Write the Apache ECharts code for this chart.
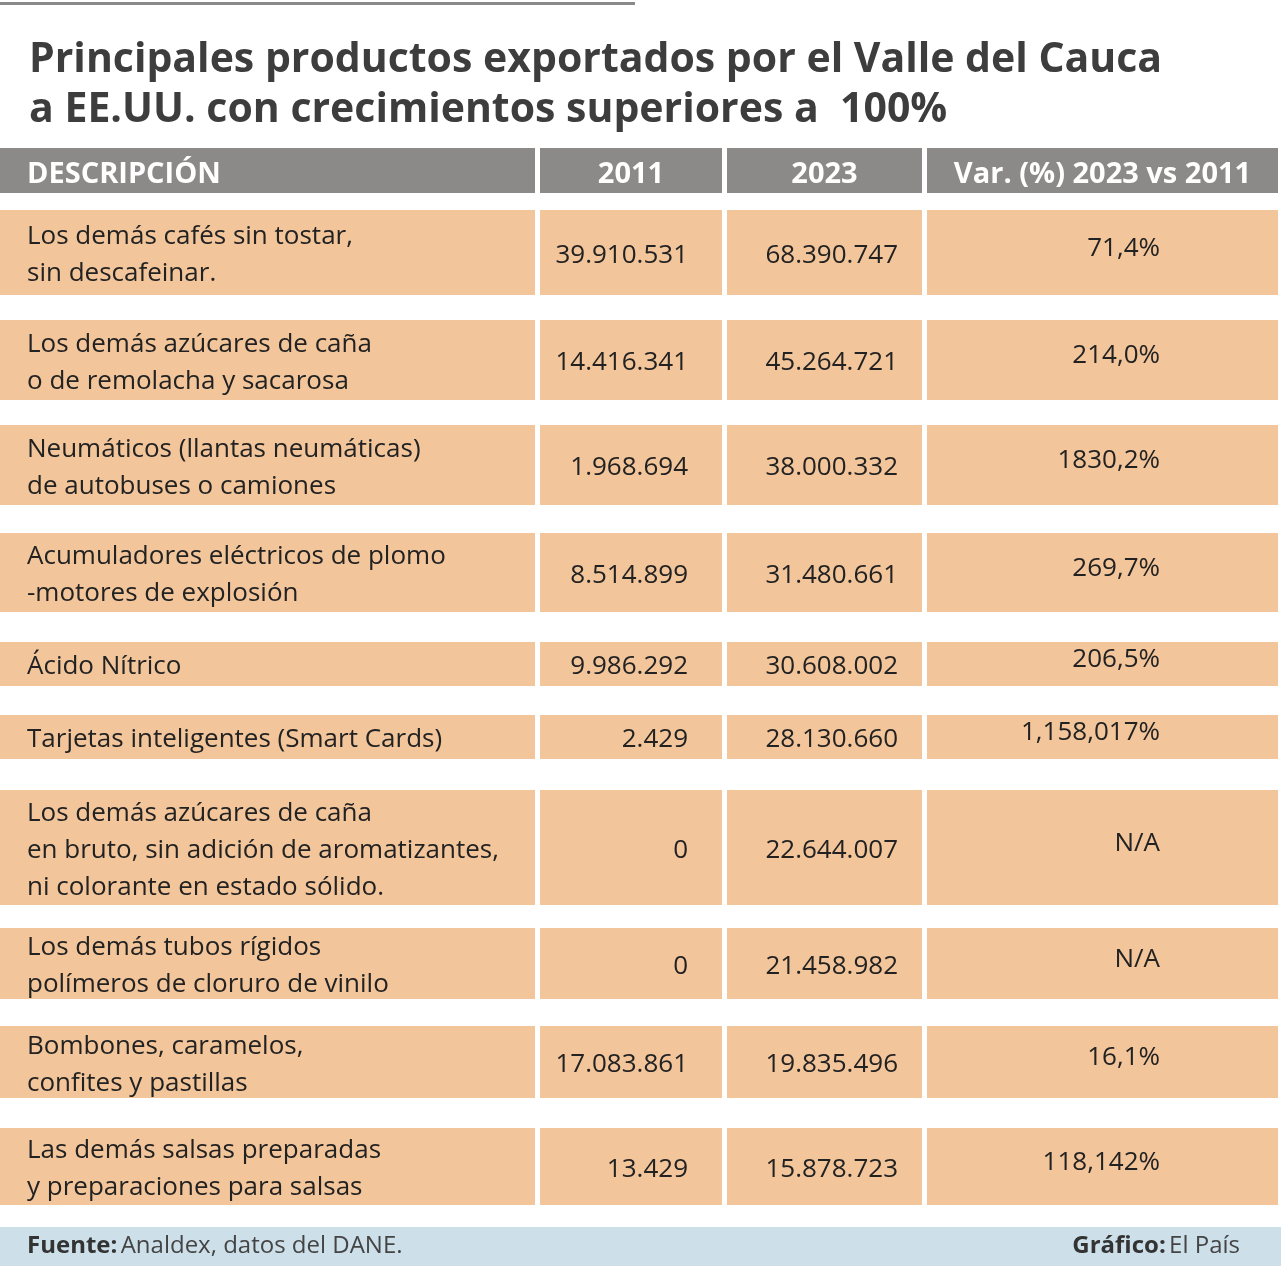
<!DOCTYPE html>
<html><head><meta charset="utf-8">
<script src="https://cdn.jsdelivr.net/npm/echarts@6/dist/echarts.min.js"></script>
<style>html,body{margin:0;padding:0;background:#fff}#grid{width:1281px;height:1266px}</style>
</head><body><div id="grid"></div>
<script>
let headers = ['DESCRIPCIÓN', '2011', '2023', 'Var. (%) 2023 vs 2011'];
let descriptions = [
    'Los demás cafés sin tostar,\nsin descafeinar.',
    'Los demás azúcares de caña\no de remolacha y sacarosa',
    'Neumáticos (llantas neumáticas)\nde autobuses o camiones',
    'Acumuladores eléctricos de plomo\n-motores de explosión',
    'Ácido Nítrico',
    'Tarjetas inteligentes (Smart Cards)',
    'Los demás azúcares de caña\nen bruto, sin adición de aromatizantes,\nni colorante en estado sólido.',
    'Los demás tubos rígidos\npolímeros de cloruro de vinilo',
    'Bombones, caramelos,\nconfites y pastillas',
    'Las demás salsas preparadas\ny preparaciones para salsas'
];
let values2011 = ['39.910.531', '14.416.341', '1.968.694', '8.514.899', '9.986.292', '2.429', '0', '0', '17.083.861', '13.429'];
let values2023 = ['68.390.747', '45.264.721', '38.000.332', '31.480.661', '30.608.002', '28.130.660', '22.644.007', '21.458.982', '19.835.496', '15.878.723'];
let variation = ['71,4%', '214,0%', '1830,2%', '269,7%', '206,5%', '1,158,017%', 'N/A', 'N/A', '16,1%', '118,142%'];

// layout in pixel units of the hidden value axes
let colEdges = [[0, 535], [540, 722], [727, 922], [927, 1278]];
let colAlignX = [27, 688, 898, 1160];
let rowTops = [210, 320, 425, 533, 642, 715, 790, 928, 1026, 1128];
let rowBottoms = [295, 400, 505, 612, 686, 759, 905, 999, 1098, 1205];

let cells = [];
headers.forEach(function (h, c) { cells.push([c, -1]); });
descriptions.forEach(function (d, r) {
    for (let c = 0; c < 4; c++) cells.push([c, r]);
});

function cellText(c, r) {
    if (r < 0) return headers[c];
    return [descriptions, values2011, values2023, variation][c][r];
}

option = {
    animation: false,
    title: {
        text: 'Principales productos exportados por el Valle del Cauca\na EE.UU. con crecimientos superiores a  100%',
        left: 24, top: 30,
        textStyle: { fontFamily: 'Open Sans', fontWeight: 'bold', fontSize: 41, lineHeight: 50, color: '#3d3d3d' }
    },
    grid: { left: 0, right: 0, top: 0, bottom: 0 },
    xAxis: { type: 'value', min: 0, max: 1281, show: false },
    yAxis: { type: 'value', min: 0, max: 1266, inverse: true, show: false },
    graphic: [
        { type: 'rect', shape: { x: 0, y: 2, width: 635, height: 3 }, style: { fill: '#8a8a8a' } },
        { type: 'rect', shape: { x: 0, y: 1227, width: 1281, height: 39 }, style: { fill: '#cde0ea' } },
        { type: 'text', x: 27, y: 1234, style: { rich: { b: { fontWeight: 'bold', fontSize: 24, fontFamily: 'Open Sans', fill: '#333' }, n: { fontSize: 24, fontFamily: 'Open Sans', fill: '#444' } }, text: '{b|Fuente:} {n|Analdex, datos del DANE.}' } },
        { type: 'text', x: 1240, y: 1234, style: { align: 'right', rich: { b: { fontWeight: 'bold', fontSize: 24, fontFamily: 'Open Sans', fill: '#333' }, n: { fontSize: 24, fontFamily: 'Open Sans', fill: '#444' } }, text: '{b|Gráfico:} {n|El País}' } }
    ],
    series: [{
        type: 'custom',
        data: cells,
        renderItem: function (params, api) {
            let c = api.value(0), r = api.value(1);
            let top = r < 0 ? 148 : rowTops[r];
            let bottom = r < 0 ? 193 : rowBottoms[r];
            let p0 = api.coord([colEdges[c][0], top]);
            let p1 = api.coord([colEdges[c][1], bottom]);
            let mid = (p0[1] + p1[1]) / 2;
            let header = r < 0;
            let tx, align;
            if (header) {
                tx = c === 0 ? p0[0] + 27 : (p0[0] + p1[0]) / 2;
                align = c === 0 ? 'left' : 'center';
            } else {
                tx = api.coord([colAlignX[c], 0])[0];
                align = c === 0 ? 'left' : 'right';
            }
            let ty = (!header && c === 3) ? mid - 4 : mid + (header ? 4 : 3);
            return {
                type: 'group',
                children: [
                    { type: 'rect', shape: { x: p0[0], y: p0[1], width: p1[0] - p0[0], height: p1[1] - p0[1] },
                      style: { fill: header ? '#8c8a89' : '#f2c59b' } },
                    { type: 'text', x: tx, y: ty,
                      style: { text: cellText(c, r), align: align, verticalAlign: 'middle',
                               fontFamily: 'Open Sans', fontSize: header ? 29 : 26, lineHeight: 37,
                               fontWeight: header ? 'bold' : 'normal', fill: header ? '#ffffff' : '#222222' } }
                ]
            };
        }
    }]
};

let myChart = echarts.init(document.getElementById('grid'));
myChart.setOption(option);
</script>
</body></html>
